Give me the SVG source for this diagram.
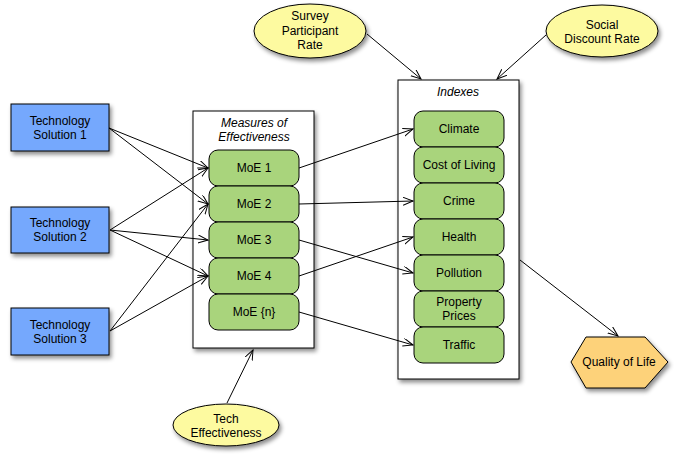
<svg xmlns="http://www.w3.org/2000/svg" width="679" height="462" viewBox="0 0 679 462">
<style>
text{font-family:"Liberation Sans",Arial,sans-serif;font-size:12px;fill:#000;text-anchor:middle}
.it{font-style:italic}
.ts{fill:#74a8fd;stroke:#000;stroke-width:1}
.grp{fill:#fff;stroke:#000;stroke-width:1}
.g{fill:#a9d47c;stroke:#000;stroke-width:1}
.y{fill:#fdfaa0;stroke:#000;stroke-width:1}
.h{fill:#fdd27a;stroke:#000;stroke-width:1}
.sh{filter:url(#ds)}
.c line{stroke:#000;stroke-width:1;marker-end:url(#arr)}
</style>
<defs>
<filter id="ds" x="-20%" y="-20%" width="150%" height="150%">
<feDropShadow dx="2" dy="3" stdDeviation="2" flood-color="#000" flood-opacity="0.45"/>
</filter>
<marker id="arr" markerWidth="12" markerHeight="10" refX="10" refY="4" orient="auto" markerUnits="userSpaceOnUse">
<path d="M0,0 L10,4 L0,8" fill="none" stroke="#000" stroke-width="1"/>
</marker>
</defs>

<g id="ts1"><rect class="ts sh" x="11" y="104" width="98" height="47"/><text x="60" y="125">Technology</text><text x="60" y="139">Solution 1</text></g>
<g id="ts2"><rect class="ts sh" x="11" y="207" width="98" height="46"/><text x="60" y="227">Technology</text><text x="60" y="241">Solution 2</text></g>
<g id="ts3"><rect class="ts sh" x="11" y="308" width="98" height="47"/><text x="60" y="329">Technology</text><text x="60" y="343">Solution 3</text></g>

<g id="moe-group"><rect class="grp sh" x="193" y="111" width="121" height="237"/><text class="it" x="254" y="127">Measures of</text><text class="it" x="254" y="141">Effectiveness</text></g>
<g id="moe1"><rect class="g" x="209" y="150" width="90" height="36" rx="9"/><text x="254" y="172">MoE 1</text></g>
<g id="moe2"><rect class="g" x="209" y="186" width="90" height="36" rx="9"/><text x="254" y="208">MoE 2</text></g>
<g id="moe3"><rect class="g" x="209" y="222" width="90" height="36" rx="9"/><text x="254" y="244">MoE 3</text></g>
<g id="moe4"><rect class="g" x="209" y="258" width="90" height="36" rx="9"/><text x="254" y="280">MoE 4</text></g>
<g id="moen"><rect class="g" x="209" y="294" width="90" height="36" rx="9"/><text x="254" y="316">MoE {n}</text></g>

<g id="idx-group"><rect class="grp sh" x="398" y="80" width="121" height="299"/><text class="it" x="458" y="96">Indexes</text></g>
<g id="climate"><rect class="g" x="414" y="111" width="90" height="36" rx="9"/><text x="459" y="133">Climate</text></g>
<g id="cost"><rect class="g" x="414" y="147" width="90" height="36" rx="9"/><text x="459" y="169">Cost of Living</text></g>
<g id="crime"><rect class="g" x="414" y="183" width="90" height="36" rx="9"/><text x="459" y="205">Crime</text></g>
<g id="health"><rect class="g" x="414" y="219" width="90" height="36" rx="9"/><text x="459" y="241">Health</text></g>
<g id="pollution"><rect class="g" x="414" y="255" width="90" height="36" rx="9"/><text x="459" y="277">Pollution</text></g>
<g id="property"><rect class="g" x="414" y="291" width="90" height="36" rx="9"/><text x="459" y="306">Property</text><text x="459" y="320">Prices</text></g>
<g id="traffic"><rect class="g" x="414" y="327" width="90" height="36" rx="9"/><text x="459" y="349">Traffic</text></g>

<g id="survey"><ellipse class="y sh" cx="310" cy="31" rx="56" ry="27"/><text x="310" y="20">Survey</text><text x="310" y="35">Participant</text><text x="310" y="49">Rate</text></g>
<g id="social"><ellipse class="y sh" cx="602" cy="31" rx="56" ry="26"/><text x="602" y="29">Social</text><text x="602" y="43">Discount Rate</text></g>
<g id="techeff"><ellipse class="y sh" cx="226" cy="425" rx="53" ry="21"/><text x="226" y="423">Tech</text><text x="226" y="437">Effectiveness</text></g>
<g id="qol"><polygon class="h sh" points="571,362 586,337 645,337 668,362 645,388 586,388"/><text x="619" y="366">Quality of Life</text></g>

<g class="c" id="connectors">
<line x1="109" y1="128" x2="208" y2="168"/>
<line x1="109" y1="128" x2="208" y2="204"/>
<line x1="110" y1="230" x2="208" y2="168"/>
<line x1="110" y1="230" x2="208" y2="240"/>
<line x1="110" y1="230" x2="208" y2="276"/>
<line x1="110" y1="331" x2="208" y2="204"/>
<line x1="110" y1="331" x2="208" y2="276"/>
<line x1="299" y1="168" x2="413" y2="129"/>
<line x1="299" y1="204" x2="413" y2="201"/>
<line x1="299" y1="240" x2="413" y2="273"/>
<line x1="299" y1="276" x2="413" y2="237"/>
<line x1="299" y1="312" x2="413" y2="345"/>
<line x1="367" y1="34" x2="421" y2="79"/>
<line x1="546" y1="35" x2="497" y2="79"/>
<line x1="227" y1="403" x2="253" y2="350"/>
<line x1="520" y1="260" x2="618" y2="336"/>
</g>
</svg>
